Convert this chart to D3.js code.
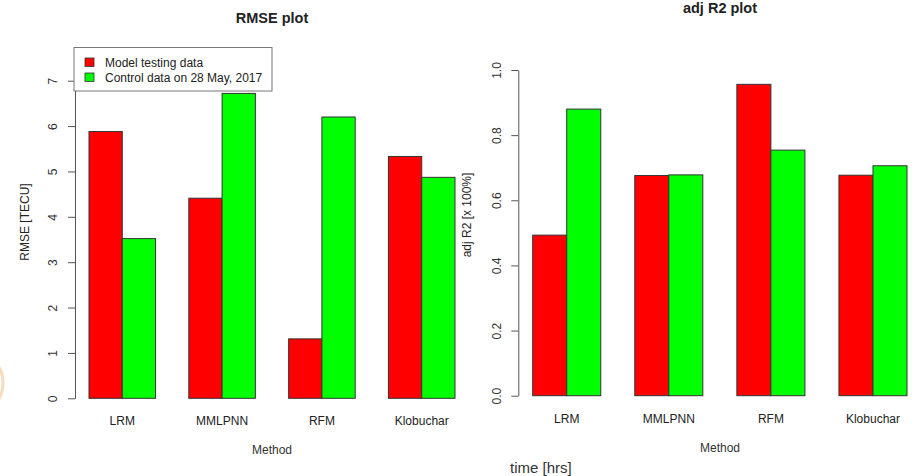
<!DOCTYPE html>
<html>
<head>
<meta charset="utf-8">
<script src="https://cdn.jsdelivr.net/npm/d3@7"></script>
<style>
  body { margin: 0; background: #fff; }
  svg { display: block; font-family: "Liberation Sans", Arial, sans-serif; }
</style>
</head>
<body>
<script>
// chart data
var methods = ["LRM", "MMLPNN", "RFM", "Klobuchar"];
var seriesNames = ["Model testing data", "Control data on 28 May, 2017"];
var rmseTesting = [5.88, 4.41, 1.31, 5.33];
var rmseControl = [3.52, 6.72, 6.20, 4.87];
var r2Testing = [0.493, 0.676, 0.956, 0.677];
var r2Control = [0.880, 0.678, 0.754, 0.706];
var rmseTicks = [0, 1, 2, 3, 4, 5, 6, 7];
var r2Ticks = [0, 0.2, 0.4, 0.6, 0.8, 1.0];
var barColors = ["#ff0000", "#00ff00"];

var svg = d3.select("body").append("svg")
  .attr("width", 916)
  .attr("height", 476);

// faint orange ring at left edge
svg.append("circle")
  .attr("cx", -30).attr("cy", 383).attr("r", 33)
  .attr("fill", "none")
  .attr("stroke", "#f6dcbc")
  .attr("stroke-width", 3);

function drawPanel(opts){
  var g = svg.append("g");

  // units: group i, bar j starts at 1 + 3*i + j (R barplot beside=TRUE)
  var x = d3.scaleLinear().domain([1, 12]).range(opts.xRange);
  var y = d3.scaleLinear().domain(opts.yDomain).range(opts.yRange);

  var rows = [];
  methods.forEach(function(m, i){
    opts.series.forEach(function(s, j){
      rows.push({method: m, i: i, j: j, v: s[i]});
    });
  });

  g.selectAll("rect.bar")
    .data(rows)
    .enter()
    .append("rect")
    .attr("class", "bar")
    .attr("x", function(d){ return x(1 + 3*d.i + d.j); })
    .attr("width", function(d){ return x(2 + 3*d.i + d.j) - x(1 + 3*d.i + d.j); })
    .attr("y", function(d){ return y(d.v); })
    .attr("height", function(d){ return y(0) - y(d.v); })
    .attr("fill", function(d){ return barColors[d.j]; })
    .attr("stroke", "#333")
    .attr("stroke-width", 1);

  // y axis
  var axis = d3.axisLeft(y)
    .tickValues(opts.ticks)
    .tickSize(7)
    .tickSizeOuter(0)
    .tickPadding(0)
    .tickFormat(opts.fmt);
  var ax = g.append("g")
    .attr("transform", "translate(" + opts.axisX + ",0)")
    .call(axis);
  ax.selectAll("path, line").attr("stroke", "#555");
  ax.selectAll("text")
    .attr("x", null).attr("dy", null).attr("y", null)
    .attr("transform", "translate(" + (opts.labelX - opts.axisX) + ",0) rotate(-90)")
    .attr("text-anchor", "middle")
    .attr("dominant-baseline", "central")
    .attr("font-size", 12)
    .attr("font-family", "Liberation Sans, Arial, sans-serif")
    .attr("fill", "#333");

  // category labels
  g.selectAll("text.cat")
    .data(methods)
    .enter()
    .append("text")
    .attr("class", "cat")
    .attr("x", function(d, i){ return x(2 + 3*i); })
    .attr("y", opts.catY)
    .attr("text-anchor", "middle")
    .attr("font-size", 12)
    .attr("fill", "#222")
    .text(function(d){ return d; });

  // x title
  g.append("text")
    .attr("x", opts.titleX).attr("y", opts.catY + 29)
    .attr("text-anchor", "middle")
    .attr("font-size", 12)
    .attr("fill", "#333")
    .text("Method");

  // y title
  g.append("text")
    .attr("transform", "translate(" + opts.yTitleX + "," + opts.yTitleY + ") rotate(-90)")
    .attr("text-anchor", "middle")
    .attr("dominant-baseline", "central")
    .attr("font-size", 12)
    .attr("fill", "#222")
    .text(opts.yTitle);

  // main title
  g.append("text")
    .attr("x", opts.titleX).attr("y", opts.mainY)
    .attr("text-anchor", "middle")
    .attr("font-size", 14.5)
    .attr("font-weight", "bold")
    .attr("fill", "#222")
    .text(opts.main);

  return g;
}

drawPanel({
  series: [rmseTesting, rmseControl],
  xRange: [89, 455],
  yDomain: [0, 7],
  yRange: [398.3, 80.7],
  ticks: rmseTicks,
  fmt: d3.format("d"),
  axisX: 75,
  labelX: 53,
  catY: 425,
  titleX: 272,
  yTitle: "RMSE [TECU]",
  yTitleX: 25,
  yTitleY: 222,
  main: "RMSE plot",
  mainY: 23
});

drawPanel({
  series: [r2Testing, r2Control],
  xRange: [532.7, 907],
  yDomain: [0, 1],
  yRange: [395.7, 70],
  ticks: r2Ticks,
  fmt: d3.format(".1f"),
  axisX: 518.3,
  labelX: 497,
  catY: 423,
  titleX: 720,
  yTitle: "adj R2 [x 100%]",
  yTitleX: 467,
  yTitleY: 215,
  main: "adj R2 plot",
  mainY: 13
});

// legend (left panel, top-left of plot region)
var legend = svg.append("g").attr("transform", "translate(74,47.5)");
legend.append("rect")
  .attr("width", 198).attr("height", 43.5)
  .attr("fill", "#fff")
  .attr("stroke", "#777")
  .attr("stroke-width", 1);
var items = legend.selectAll("g.item")
  .data(seriesNames)
  .enter()
  .append("g")
  .attr("class", "item")
  .attr("transform", function(d, i){ return "translate(0," + (15 + i*15) + ")"; });
items.append("rect")
  .attr("x", 11).attr("y", -4.5)
  .attr("width", 9).attr("height", 8.5)
  .attr("fill", function(d, i){ return barColors[i]; })
  .attr("stroke", "#333")
  .attr("stroke-width", 0.8);
items.append("text")
  .attr("x", 31).attr("y", 0)
  .attr("dominant-baseline", "central")
  .attr("font-size", 12)
  .attr("fill", "#222")
  .text(function(d){ return d; });

// stray caption under right panel
svg.append("text")
  .attr("x", 510).attr("y", 473)
  .attr("font-size", 15)
  .attr("fill", "#333")
  .text("time [hrs]");
</script>
</body>
</html>
